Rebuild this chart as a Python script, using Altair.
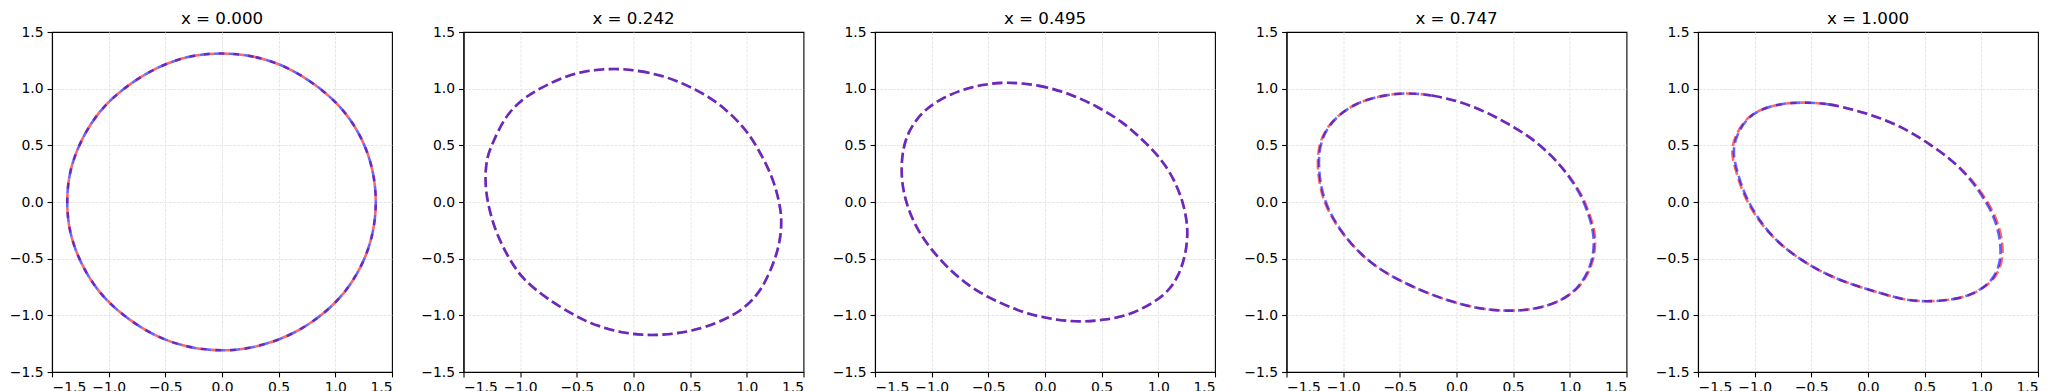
import altair as alt
import pandas as pd

TITLES = ["x = 0.000", "x = 0.242", "x = 0.495", "x = 0.747", "x = 1.000"]
TICKS = [-1.5, -1.0, -0.5, 0.0, 0.5, 1.0, 1.5]

# Panel 1 (x = 0.000)
P1_X = [-0.01, 0.30, 0.59, 0.88, 1.10, 1.26, 1.34, 1.365, 1.34, 1.26, 1.10, 0.90, 0.63, 0.32,
        0.03, -0.29, -0.59, -0.88, -1.10, -1.26, -1.35, -1.373, -1.35, -1.26, -1.10, -0.88, -0.60, -0.31]
P1_Y = [1.32, 1.29, 1.19, 1.00, 0.79, 0.52, 0.26, 0.0, -0.26, -0.52, -0.79, -0.99, -1.17, -1.28,
        -1.32, -1.29, -1.19, -1.00, -0.79, -0.52, -0.26, 0.0, 0.26, 0.52, 0.79, 1.00, 1.18, 1.29]

# Panel 2 (x = 0.242)
P2_X = [-0.17, 0.05, 0.28, 0.50, 0.75, 0.98, 1.10, 1.22, 1.29, 1.31, 1.29, 1.25, 1.19, 1.10, 0.92,
        0.63, 0.40, 0.16, -0.07, -0.31, -0.51, -0.77, -0.98, -1.10, -1.22, -1.29, -1.31, -1.30,
        -1.24, -1.13, -0.98, -0.83, -0.63, -0.42]
P2_Y = [1.18, 1.16, 1.11, 1.02, 0.88, 0.66, 0.47, 0.24, 0.0, -0.18, -0.36, -0.50, -0.65, -0.82, -0.99,
        -1.11, -1.16, -1.18, -1.16, -1.10, -1.01, -0.85, -0.68, -0.50, -0.26, 0.0, 0.18, 0.38,
        0.53, 0.76, 0.91, 1.00, 1.10, 1.16]

# Panel 3 (x = 0.495)
P3_X = [-0.34, -0.06, 0.21, 0.47, 0.68, 0.85, 1.00, 1.12, 1.21, 1.25, 1.26, 1.24, 1.18, 1.09, 0.94,
        0.74, 0.53, 0.32, 0.09, -0.15, -0.38, -0.62, -0.82, -1.00, -1.15, -1.24, -1.27, -1.26,
        -1.21, -1.09, -0.94, -0.74, -0.56]
P3_Y = [1.06, 1.035, 0.96, 0.84, 0.71, 0.56, 0.41, 0.24, 0.03, -0.15, -0.29, -0.47, -0.65, -0.79, -0.90,
        -1.00, -1.04, -1.06, -1.04, -0.99, -0.90, -0.78, -0.62, -0.43, -0.21, 0.03, 0.24, 0.44,
        0.62, 0.79, 0.90, 0.99, 1.035]

# Panel 4 (x = 0.747)
P4_X = [-0.45, -0.22, 0.02, 0.25, 0.46, 0.67, 0.84, 0.99, 1.11, 1.18, 1.23, 1.22, 1.17, 1.08, 0.93,
        0.73, 0.49, 0.25, 0.02, -0.22, -0.45, -0.69, -0.87, -1.04, -1.16, -1.21, -1.23, -1.21,
        -1.13, -1.01, -0.87, -0.66]
P4_Y = [0.965, 0.945, 0.89, 0.80, 0.69, 0.56, 0.41, 0.24, 0.06, -0.12, -0.29, -0.47, -0.62, -0.76, -0.87,
        -0.94, -0.965, -0.95, -0.90, -0.82, -0.72, -0.59, -0.44, -0.24, -0.03, 0.15, 0.35, 0.53,
        0.68, 0.79, 0.88, 0.94]
P4_XB = [-0.45, -0.22, 0.02, 0.25, 0.46, 0.67, 0.84, 0.985, 1.10, 1.17, 1.215, 1.21, 1.16, 1.075, 0.93,
         0.73, 0.49, 0.25, 0.02, -0.22, -0.45, -0.69, -0.87, -1.035, -1.15, -1.20, -1.22, -1.20,
         -1.125, -1.01, -0.87, -0.66]

# Panel 5 (x = 1.000)
P5_X = [-0.57, -0.35, -0.11, 0.12, 0.36, 0.56, 0.74, 0.91, 1.06, 1.15, 1.20, 1.17, 1.09, 0.94, 0.77,
        0.56, 0.33, 0.06, -0.17, -0.41, -0.61, -0.82, -1.00, -1.11, -1.17, -1.21, -1.17, -1.04,
        -0.78]
P5_Y = [0.88, 0.87, 0.81, 0.74, 0.63, 0.50, 0.37, 0.21, 0.0, -0.18, -0.41, -0.59, -0.71, -0.81, -0.86,
        -0.88, -0.87, -0.79, -0.72, -0.62, -0.50, -0.34, -0.12, 0.09, 0.29, 0.44, 0.60, 0.79,
        0.87]
P5_XB = [-0.57, -0.35, -0.11, 0.12, 0.36, 0.56, 0.74, 0.90, 1.045, 1.135, 1.18, 1.155, 1.08, 0.94, 0.77,
         0.56, 0.33, 0.06, -0.17, -0.41, -0.61, -0.82, -0.99, -1.10, -1.16, -1.195, -1.16, -1.035,
         -0.78]

RED = [(P1_X, P1_Y), (P2_X, P2_Y), (P3_X, P3_Y), (P4_X, P4_Y), (P5_X, P5_Y)]
BLUE = [(P1_X, P1_Y), (P2_X, P2_Y), (P3_X, P3_Y), (P4_XB, P4_Y), (P5_XB, P5_Y)]
BLUE_DASH_OFFSET = [4.4, 0, 0, 0, 0]

FONT = "DejaVu Sans"
W = 340
H = 340
GRID_COLOR = {"condition": {"test": "abs(datum.value) >= 1.49", "value": "transparent"},
              "value": "#e6e6e6"}


def frame(xs, ys):
    return pd.DataFrame({"i": list(range(len(xs))), "x": xs, "y": ys})


def line(df, color, offset):
    return alt.Chart(df).mark_line(
        color=color, opacity=0.6, strokeWidth=2.6, strokeDash=[10.3, 4.4],
        strokeDashOffset=offset, interpolate="basis-closed", clip=True
    ).encode(
        x=alt.X("x:Q", scale=alt.Scale(domain=[-1.5, 1.5], nice=False, zero=False),
                axis=alt.Axis(values=TICKS, format=".1f", title=None, gridColor=GRID_COLOR)),
        y=alt.Y("y:Q", scale=alt.Scale(domain=[-1.5, 1.5], nice=False, zero=False),
                axis=alt.Axis(values=TICKS, format=".1f", title=None, gridColor=GRID_COLOR)),
        order="i:Q",
    )


panels = []
for k in range(5):
    rx, ry = RED[k]
    bx, by = BLUE[k]
    layer = alt.layer(
        line(frame(rx, ry), "#ff0000", 0),
        line(frame(bx, by), "#0000ff", BLUE_DASH_OFFSET[k]),
    ).properties(
        width=W, height=H,
        title=alt.TitleParams(TITLES[k], font=FONT, fontSize=16.7, fontWeight="normal",
                              color="#000000", anchor="middle", offset=-3),
    )
    panels.append(layer)

chart = alt.hconcat(*panels, spacing=71.5, bounds="flush").properties(
    padding={"top": 2, "left": 0, "right": 0, "bottom": 0}
).configure_view(
    stroke="#000000", strokeWidth=1.1
).configure_axis(
    labelFont=FONT, labelFontSize=13.9, labelColor="#000000",
    domainColor="#000000", domainWidth=1.1,
    tickColor="#000000", tickSize=4.9, tickWidth=1.1, labelPadding=4,
    grid=True, gridDash=[3, 1.3], gridWidth=1,
)

chart.save("out.html", embed_options={"renderer": "svg", "actions": False})
